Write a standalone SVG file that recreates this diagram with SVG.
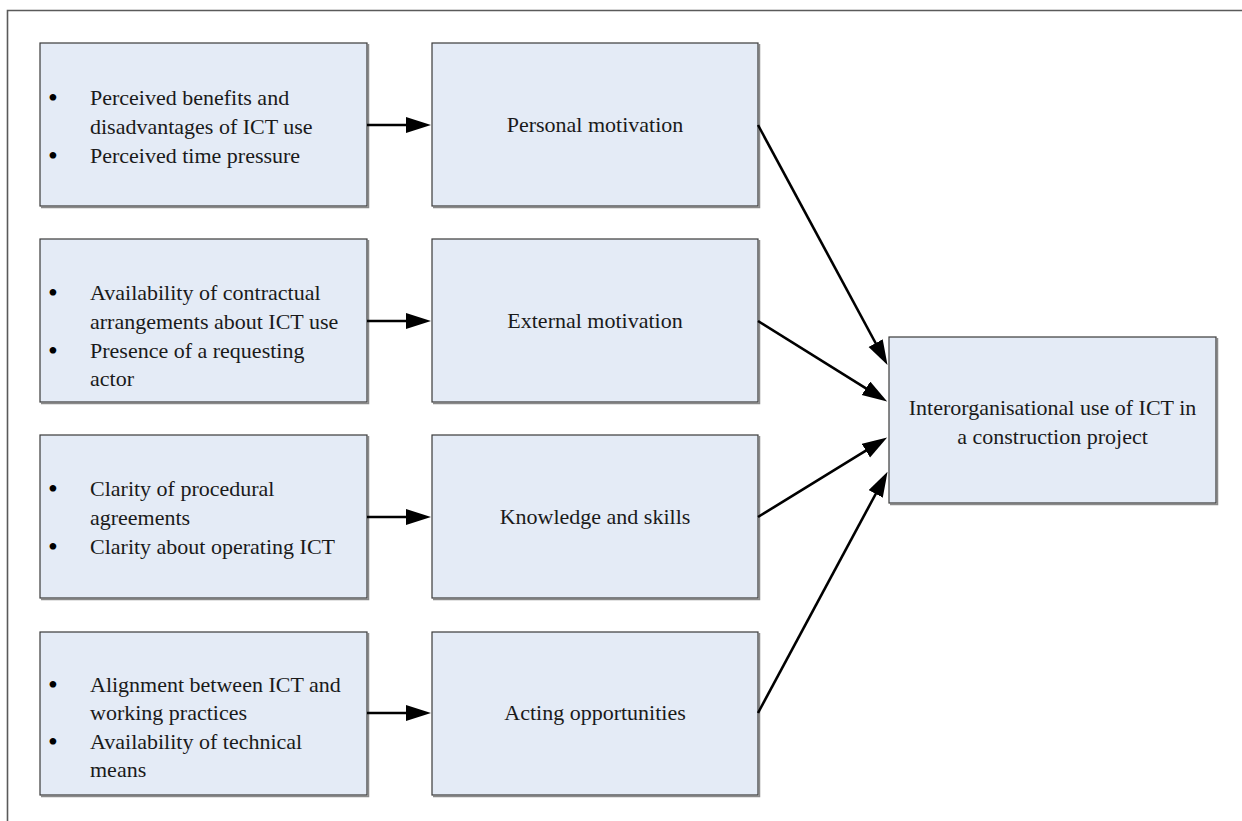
<svg xmlns="http://www.w3.org/2000/svg" width="1242" height="821" viewBox="0 0 1242 821">
  <style>
    .box { fill: #e4ebf6; stroke: #3a3a3a; stroke-width: 1.2; }
    .shadow { fill: none; stroke: #8a8a8a; stroke-width: 1.5; }
    .txt { font-family: "Liberation Serif", "Times New Roman", serif; font-size: 22px; fill: #1a1a1a; }
    .bul { font-family: "Liberation Serif", "Times New Roman", serif; font-size: 28px; fill: #000; }
    .mid { text-anchor: middle; }
    .conn { stroke: #000; stroke-width: 2.6; fill: none; marker-end: url(#head); }
    .frame { stroke: #5a5a5a; stroke-width: 1.6; fill: none; }
  </style>
  <defs>
    <marker id="head" markerUnits="userSpaceOnUse" markerWidth="26" markerHeight="17" refX="1" refY="8" orient="auto">
      <path d="M0,0 L25,8 L0,16 z" fill="#000"/>
    </marker>
  </defs>

  <rect width="1242" height="821" fill="#fff"/>
  <!-- outer frame (left and top edges) -->
  <path class="frame" d="M7.5,821 V10.5 H1242"/>

  <!-- factor boxes -->
  <g id="factors-personal">
    <path class="shadow" d="M368.5,44 V207.5 H41"/>
    <rect class="box" x="40" y="43" width="327" height="163"/>
    <text class="bul" x="48" y="107">•</text>
    <text class="txt" x="90" y="105">Perceived benefits and</text>
    <text class="txt" x="90" y="134">disadvantages of ICT use</text>
    <text class="bul" x="48" y="165">•</text>
    <text class="txt" x="90" y="163">Perceived time pressure</text>
  </g>
  <g id="factors-external">
    <path class="shadow" d="M368.5,240 V403.5 H41"/>
    <rect class="box" x="40" y="239" width="327" height="163"/>
    <text class="bul" x="48" y="302">•</text>
    <text class="txt" x="90" y="300">Availability of contractual</text>
    <text class="txt" x="90" y="329">arrangements about ICT use</text>
    <text class="bul" x="48" y="360">•</text>
    <text class="txt" x="90" y="358">Presence of a requesting</text>
    <text class="txt" x="90" y="386">actor</text>
  </g>
  <g id="factors-knowledge">
    <path class="shadow" d="M368.5,436 V599.5 H41"/>
    <rect class="box" x="40" y="435" width="327" height="163"/>
    <text class="bul" x="48" y="498">•</text>
    <text class="txt" x="90" y="496">Clarity of procedural</text>
    <text class="txt" x="90" y="525">agreements</text>
    <text class="bul" x="48" y="556">•</text>
    <text class="txt" x="90" y="554">Clarity about operating ICT</text>
  </g>
  <g id="factors-acting">
    <path class="shadow" d="M368.5,633 V796.5 H41"/>
    <rect class="box" x="40" y="632" width="327" height="163"/>
    <text class="bul" x="48" y="694">•</text>
    <text class="txt" x="90" y="692">Alignment between ICT and</text>
    <text class="txt" x="90" y="720">working practices</text>
    <text class="bul" x="48" y="751">•</text>
    <text class="txt" x="90" y="749">Availability of technical</text>
    <text class="txt" x="90" y="777">means</text>
  </g>

  <!-- determinant boxes -->
  <g id="personal-motivation">
    <path class="shadow" d="M759.5,44 V207.5 H433"/>
    <rect class="box" x="432" y="43" width="326" height="163"/>
    <text class="txt mid" x="595" y="132">Personal motivation</text>
  </g>
  <g id="external-motivation">
    <path class="shadow" d="M759.5,240 V403.5 H433"/>
    <rect class="box" x="432" y="239" width="326" height="163"/>
    <text class="txt mid" x="595" y="328">External motivation</text>
  </g>
  <g id="knowledge-skills">
    <path class="shadow" d="M759.5,436 V599.5 H433"/>
    <rect class="box" x="432" y="435" width="326" height="163"/>
    <text class="txt mid" x="595" y="524">Knowledge and skills</text>
  </g>
  <g id="acting-opportunities">
    <path class="shadow" d="M759.5,633 V796.5 H433"/>
    <rect class="box" x="432" y="632" width="326" height="163"/>
    <text class="txt mid" x="595" y="720">Acting opportunities</text>
  </g>

  <!-- outcome box -->
  <g id="ict-use">
    <path class="shadow" d="M1217.5,338 V504.5 H890"/>
    <rect class="box" x="889" y="337" width="327" height="166"/>
    <text class="txt mid" x="1052.5" y="415">Interorganisational use of ICT in</text>
    <text class="txt mid" x="1052.5" y="444">a construction project</text>
  </g>

  <!-- connectors -->
  <g id="connectors">
    <line class="conn" x1="367" y1="125" x2="407" y2="125"/>
    <line class="conn" x1="367" y1="321" x2="407" y2="321"/>
    <line class="conn" x1="367" y1="517" x2="407" y2="517"/>
    <line class="conn" x1="367" y1="713" x2="407" y2="713"/>
    <line class="conn" x1="758" y1="125" x2="876.1" y2="344.0"/>
    <line class="conn" x1="758" y1="321" x2="866.8" y2="388.8"/>
    <line class="conn" x1="758" y1="517" x2="866.7" y2="450.1"/>
    <line class="conn" x1="758" y1="713" x2="876.2" y2="493.0"/>
  </g>
</svg>
